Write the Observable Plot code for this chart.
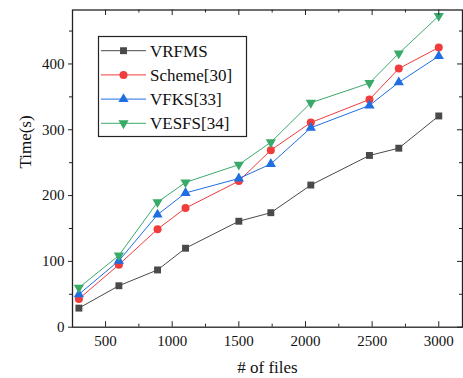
<!DOCTYPE html>
<html>
<head>
<meta charset="utf-8">
<script src="https://cdn.jsdelivr.net/npm/d3@7"></script>
<script src="https://cdn.jsdelivr.net/npm/@observablehq/plot@0.6"></script>
<style>
  html, body { margin: 0; padding: 0; background: #fff; }
  #wrap { position: relative; width: 463px; height: 378px; }
  #wrap svg { display: block; }
  #wrap svg, #wrap svg text { font-family: "Liberation Serif", "Times New Roman", serif !important; font-variant: normal !important; }
  #legend { position: absolute; left: 0; top: 0; }
</style>
</head>
<body>
<div id="wrap"></div>
<script>
// ---- data ----
const files = [300, 600, 890, 1100, 1500, 1740, 2040, 2480, 2700, 3000];
const vrfms   = [29, 63, 87, 120, 161, 174, 216, 261, 272, 321];
const scheme30 = [43, 95, 149, 181, 222, 269, 311, 346, 393, 425];
const vfks33  = [50, 101, 171, 204, 226, 248, 303, 337, 372, 412];
const vesfs34 = [60, 109, 190, 220, 247, 281, 341, 371, 416, 473];
const seriesNames = ["VRFMS", "Scheme[30]", "VFKS[33]", "VESFS[34]"];
const xTicks = [500, 1000, 1500, 2000, 2500, 3000];
const xMinor = [750, 1250, 1750, 2250, 2750];
const yTicks = [0, 100, 200, 300, 400];
const yMinor = [50, 150, 250, 350, 450];

// ---- styles ----
const colors = ["#4a4a4a", "#f03c3c", "#1f6fe3", "#3aaa6a"];
const symbols = ["square", "circle", "triangle", "triangle"];
const rotates = [0, 0, 0, 180];
const radii = [3.9, 4, 3.8, 3.8];

const W = 463, H = 378;
const mL = 72, mR = 1, mT = 9.5, mB = 51.3;
const fw = W - mL - mR, fh = H - mT - mB;

const values = [vrfms, scheme30, vfks33, vesfs34];
const rows = [];
values.forEach((vals, s) => vals.forEach((v, i) => rows.push({series: seriesNames[s], s, x: files[i], y: v})));

const font = "Liberation Serif, Times New Roman, serif";
const marks = [];
seriesNames.forEach((name, s) => {
  const d = rows.filter(r => r.s === s);
  marks.push(Plot.line(d, {x: "x", y: "y", stroke: colors[s], strokeWidth: 1}));
});
seriesNames.forEach((name, s) => {
  const d = rows.filter(r => r.s === s);
  marks.push(Plot.dot(d, {x: "x", y: "y", fill: colors[s], stroke: "none", symbol: () => symbols[s], r: radii[s], rotate: rotates[s]}));
});
// inward ticks (bottom & top)
marks.push(Plot.ruleX(xTicks, {x: d => d, insetTop: fh - 5.5, stroke: "#222", strokeWidth: 1}));
marks.push(Plot.ruleX(xMinor, {x: d => d, insetTop: fh - 3, stroke: "#222", strokeWidth: 1}));
marks.push(Plot.ruleX(xTicks, {x: d => d, insetBottom: fh - 5.5, stroke: "#222", strokeWidth: 1}));
marks.push(Plot.ruleX(xMinor, {x: d => d, insetBottom: fh - 3, stroke: "#222", strokeWidth: 1}));
// right inward ticks
marks.push(Plot.ruleY(yTicks, {y: d => d, insetLeft: fw - 5, stroke: "#222", strokeWidth: 1}));
marks.push(Plot.ruleY(yMinor, {y: d => d, insetLeft: fw - 3, stroke: "#222", strokeWidth: 1}));
// left minor ticks (outward)
marks.push(Plot.axisY({ticks: yMinor, tickSize: 3, tickFormat: () => "", label: null, stroke: "#222"}));
// axes
marks.push(Plot.axisY({ticks: yTicks, tickSize: 4, tickPadding: 4, fontSize: 15, tickFormat: d => String(d), label: null, stroke: "#222", fill: "#111"}));
marks.push(Plot.axisX({ticks: xTicks, tickSize: 0, tickPadding: 8, fontSize: 15, tickFormat: d => String(d), label: null, fill: "#111"}));
// axis labels
marks.push(Plot.text(["# of files"], {frameAnchor: "bottom", dy: 40, fontSize: 17, fill: "#111", lineAnchor: "middle", fontFamily: font}));
marks.push(Plot.text(["Time(s)"], {frameAnchor: "left", dx: -47, rotate: -90, fontSize: 17, fill: "#111", fontFamily: font}));
marks.push(Plot.frame({stroke: "#222", strokeWidth: 1.3}));

const chart = Plot.plot({
  width: W, height: H,
  marginLeft: mL, marginRight: mR, marginTop: mT, marginBottom: mB,
  style: {fontFamily: font, background: "#fff", color: "#111"},
  x: {domain: [252, 3178]},
  y: {domain: [0, 482]},
  marks
});
document.getElementById("wrap").appendChild(chart);

// ---- legend overlay ----
const lg = d3.select("#wrap").append("svg").attr("id", "legend")
  .attr("width", W).attr("height", H)
  .attr("font-family", font);
lg.append("rect").attr("x", 98.5).attr("y", 36.5).attr("width", 148).attr("height", 100)
  .attr("fill", "#fff").attr("stroke", "#222").attr("stroke-width", 1.2);
const symMap = {square: d3.symbolSquare, circle: d3.symbolCircle, triangle: d3.symbolTriangle};
seriesNames.forEach((name, s) => {
  const cy = 50.7 + s * 24.2;
  lg.append("line").attr("x1", 101).attr("x2", 146).attr("y1", cy).attr("y2", cy)
    .attr("stroke", colors[s]).attr("stroke-width", 1);
  const area = Math.PI * radii[s] * radii[s];
  lg.append("path").attr("d", d3.symbol(symMap[symbols[s]], area)())
    .attr("transform", `translate(123.5,${cy}) rotate(${rotates[s]})`)
    .attr("fill", colors[s]);
  lg.append("text").attr("x", 150).attr("y", cy).attr("dy", "0.35em")
    .attr("font-size", 17).attr("fill", "#111").text(name);
});
</script>
</body>
</html>
